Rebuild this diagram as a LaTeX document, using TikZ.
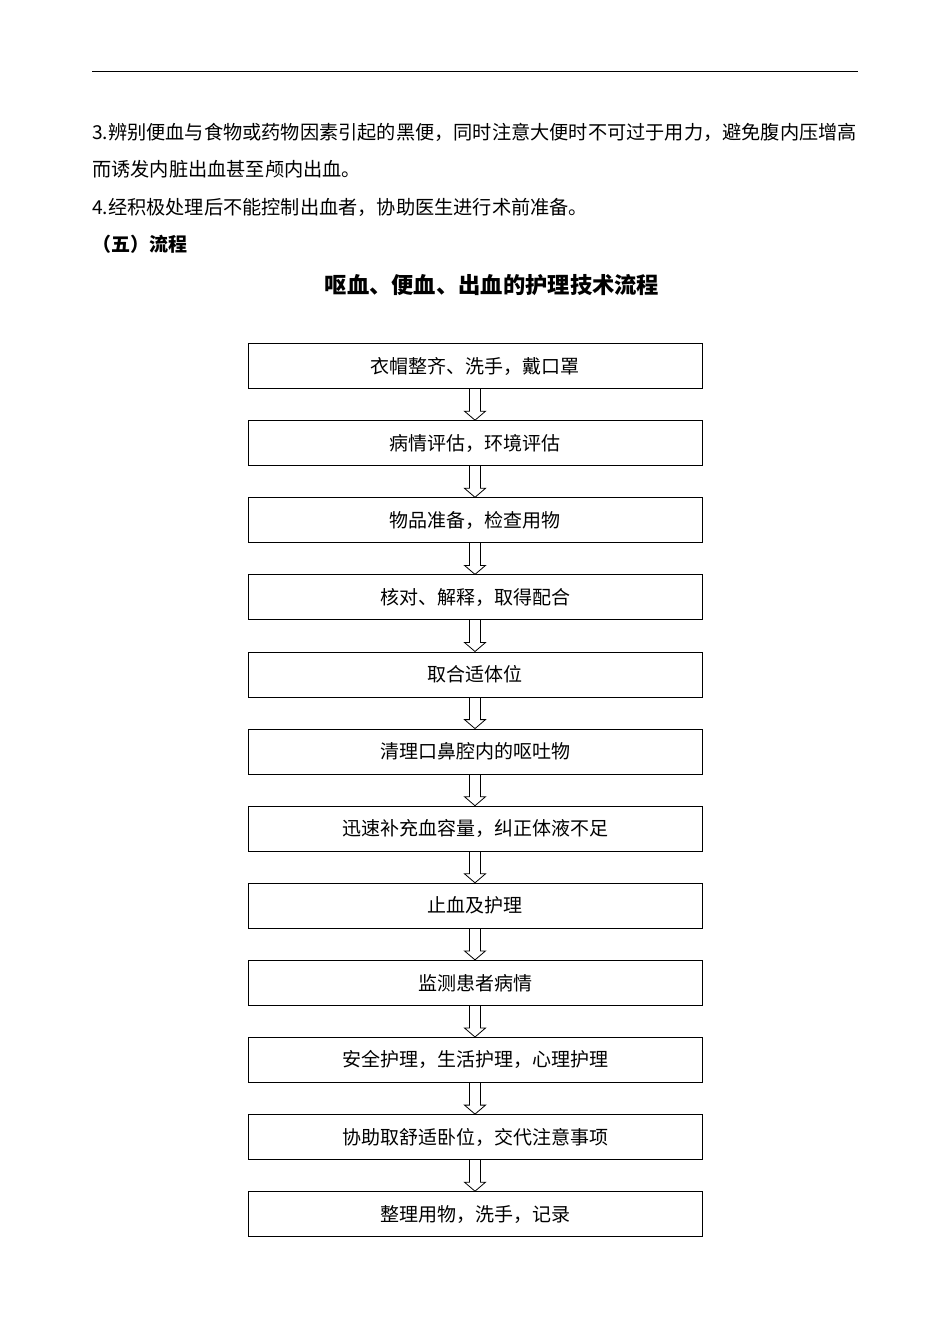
\documentclass[tikz,border=0pt]{standalone}
\usepackage{fontspec}
\setmainfont{Liberation Serif}
\newfontfamily\cjk{Noto Sans CJK SC}
\usetikzlibrary{positioning,calc}
\tikzset{%
  stepbox/.style={draw,thick,minimum width=454pt,minimum height=45pt,
                  inner sep=0pt,font=\cjk\fontsize{19}{21}\selectfont},
  bodytext/.style={anchor=west,inner sep=0pt,font=\cjk\fontsize{19.2}{21}\selectfont},
}
\begin{document}
\begin{tikzpicture}[x=1pt,y=-1pt]
  \useasboundingbox (0,0) rectangle (950,1344);
  \draw[thick] (92,71) -- (858,71);
  % text above the chart
  \node[bodytext] (l1) at (92,132) {3.辨别便血与食物或药物因素引起的黑便，同时注意大便时不可过于用力，避免腹内压增高};
  \node[bodytext] (l2) at (92,169) {而诱发内脏出血甚至颅内出血。};
  \node[bodytext] (l3) at (92,207) {4.经积极处理后不能控制出血者，协助医生进行术前准备。};
  \node[bodytext,font=\cjk\bfseries\fontsize{19}{21}\selectfont] (l4) at (92,244) {（五）流程};
  \node[font=\cjk\bfseries\fontsize{22.3}{25}\selectfont] (title) at (492,285) {呕血、便血、出血的护理技术流程};
  % boxes
  \foreach \t [count=\i] in {衣帽整齐、洗手，戴口罩,病情评估，环境评估,物品准备，检查用物,
      核对、解释，取得配合,取合适体位,清理口鼻腔内的呕吐物,迅速补充血容量，纠正体液不足,
      止血及护理,监测患者病情,安全护理，生活护理，心理护理,协助取舒适卧位，交代注意事项,
      整理用物，洗手，记录}
    \node[stepbox] (b\i) at (475,{366+77.1*(\i-1)}) {\t};
  % hollow arrows
  \foreach \i [evaluate=\i as \j using int(\i+1)] in {1,...,11}
    \draw[thick] ($(b\i.south)+(-5.5,0)$) -- ($(b\j.north)+(-5.5,-9)$) -- ++(-5,0)
      -- (b\j.north) -- ($(b\j.north)+(10.5,-9)$) -- ++(-5,0) -- ($(b\i.south)+(5.5,0)$);
\end{tikzpicture}
\end{document}
